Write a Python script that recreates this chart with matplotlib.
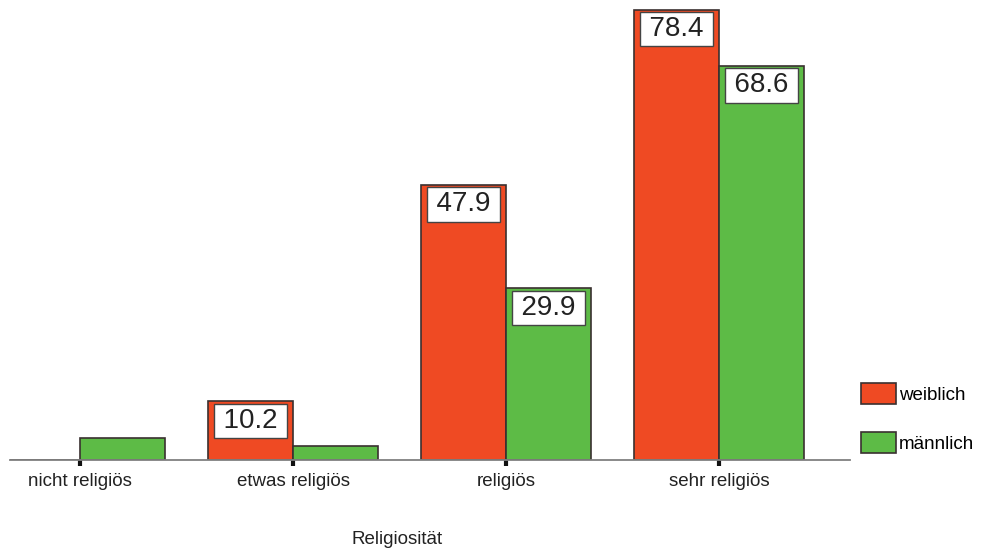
import numpy as np
import matplotlib.pyplot as plt
from matplotlib.patches import Patch

plt.rcParams['font.family'] = ['Liberation Sans', 'DejaVu Sans']

categories = ['nicht religiös', 'etwas religiös', 'religiös', 'sehr religiös']
weiblich = [0.0, 10.2, 47.9, 78.4]
maennlich = [3.8, 2.4, 29.9, 68.6]
labels_w = ['', '10.2', '47.9', '78.4']
labels_m = ['', '', '29.9', '68.6']

red = '#EF4A23'
green = '#5DBB46'
edge = '#3a3030'

fig = plt.figure(figsize=(9.81, 5.54), dpi=100)
ax = fig.add_axes([10/981, 94/554, 840/981, 460/554])

x = np.arange(len(categories))
w = 0.4
ax.bar(x - w/2, weiblich, w, color=red, edgecolor=edge, linewidth=1.2)
ax.bar(x + w/2, maennlich, w, color=green, edgecolor=edge, linewidth=1.2)

def lab(xs, vals, txts):
    for xi, v, t in zip(xs, vals, txts):
        if not t:
            continue
        ax.annotate('\u2009' + t + '\u2009', xy=(xi, v), xytext=(0, -14), textcoords='offset points',
                    ha='center', va='center', fontsize=20, color='#222222',
                    bbox=dict(boxstyle='square,pad=0.15', fc='white', ec='#444444', lw=1.0))

lab(x - w/2, weiblich, labels_w)
lab(x + w/2, maennlich, labels_m)

ax.set_xlim(-0.33, 3.615)
ax.set_ylim(0, 80.1)
for s in ['top', 'right', 'left']:
    ax.spines[s].set_visible(False)
ax.spines['bottom'].set_color('#808080')
ax.spines['bottom'].set_linewidth(1.3)
ax.set_yticks([])
ax.set_xticks(x)
ax.set_xticklabels(categories, fontsize=13.5, color='#222222')
ax.tick_params(axis='x', direction='out', length=4, width=3, color='#111111', pad=5)

fig.text(397/981, 1 - 540/554, 'Religiosität', ha='center', va='center',
         fontsize=13.5, color='#222222')

handles = [Patch(fc=red, ec=edge, lw=1.2), Patch(fc=green, ec=edge, lw=1.2)]
fig.legend(handles, ['weiblich', 'männlich'], loc='upper left',
           bbox_to_anchor=(861/981, 1 - 383/554), frameon=False, fontsize=13.5,
           handlelength=1.87, handleheight=1.33, handletextpad=0.16,
           labelspacing=1.5, borderpad=0, borderaxespad=0)

fig.savefig('out.png', dpi=100)
